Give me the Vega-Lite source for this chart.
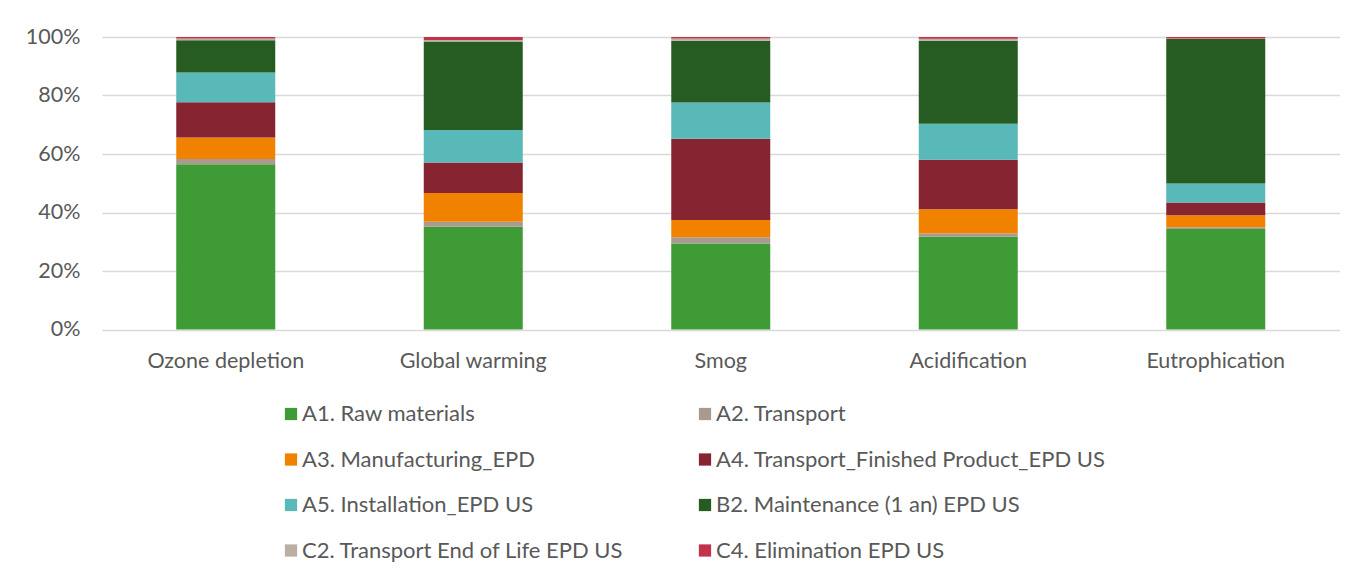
{
  "$schema": "https://vega.github.io/schema/vega-lite/v6.json",
  "width": 1237.5,
  "height": 292.5,
  "autosize": "none",
  "padding": {"left": 102, "top": 37, "right": 30, "bottom": 250},
  "background": "white",
  "config": {
    "view": {"stroke": null},
    "font": "Lato",
    "axis": {"labelColor": "#595959", "labelFont": "Lato", "labelFontSize": 21.5, "domain": false, "ticks": false, "gridColor": "#D9D9D9", "gridWidth": 1.3}
  },
  "data": {
    "values": [
      {"cat": "Ozone depletion", "stage": "A1. Raw materials", "v": 56.5},
      {"cat": "Ozone depletion", "stage": "A2. Transport", "v": 1.8},
      {"cat": "Ozone depletion", "stage": "A3. Manufacturing_EPD", "v": 7.3},
      {"cat": "Ozone depletion", "stage": "A4. Transport_Finished Product_EPD US", "v": 12.1},
      {"cat": "Ozone depletion", "stage": "A5. Installation_EPD US", "v": 10.2},
      {"cat": "Ozone depletion", "stage": "B2. Maintenance (1 an) EPD US", "v": 11.0},
      {"cat": "Ozone depletion", "stage": "C2. Transport End of Life EPD US", "v": 0.6},
      {"cat": "Ozone depletion", "stage": "C4. Elimination EPD US", "v": 0.5},
      {"cat": "Global warming", "stage": "A1. Raw materials", "v": 35.1},
      {"cat": "Global warming", "stage": "A2. Transport", "v": 1.7},
      {"cat": "Global warming", "stage": "A3. Manufacturing_EPD", "v": 9.9},
      {"cat": "Global warming", "stage": "A4. Transport_Finished Product_EPD US", "v": 10.4},
      {"cat": "Global warming", "stage": "A5. Installation_EPD US", "v": 11.1},
      {"cat": "Global warming", "stage": "B2. Maintenance (1 an) EPD US", "v": 30.3},
      {"cat": "Global warming", "stage": "C2. Transport End of Life EPD US", "v": 0.5},
      {"cat": "Global warming", "stage": "C4. Elimination EPD US", "v": 1.0},
      {"cat": "Smog", "stage": "A1. Raw materials", "v": 29.4},
      {"cat": "Smog", "stage": "A2. Transport", "v": 2.1},
      {"cat": "Smog", "stage": "A3. Manufacturing_EPD", "v": 5.9},
      {"cat": "Smog", "stage": "A4. Transport_Finished Product_EPD US", "v": 27.8},
      {"cat": "Smog", "stage": "A5. Installation_EPD US", "v": 12.4},
      {"cat": "Smog", "stage": "B2. Maintenance (1 an) EPD US", "v": 21.1},
      {"cat": "Smog", "stage": "C2. Transport End of Life EPD US", "v": 0.8},
      {"cat": "Smog", "stage": "C4. Elimination EPD US", "v": 0.5},
      {"cat": "Acidification", "stage": "A1. Raw materials", "v": 31.7},
      {"cat": "Acidification", "stage": "A2. Transport", "v": 1.1},
      {"cat": "Acidification", "stage": "A3. Manufacturing_EPD", "v": 8.3},
      {"cat": "Acidification", "stage": "A4. Transport_Finished Product_EPD US", "v": 16.9},
      {"cat": "Acidification", "stage": "A5. Installation_EPD US", "v": 12.3},
      {"cat": "Acidification", "stage": "B2. Maintenance (1 an) EPD US", "v": 28.4},
      {"cat": "Acidification", "stage": "C2. Transport End of Life EPD US", "v": 0.7},
      {"cat": "Acidification", "stage": "C4. Elimination EPD US", "v": 0.6},
      {"cat": "Eutrophication", "stage": "A1. Raw materials", "v": 34.4},
      {"cat": "Eutrophication", "stage": "A2. Transport", "v": 0.6},
      {"cat": "Eutrophication", "stage": "A3. Manufacturing_EPD", "v": 4.1},
      {"cat": "Eutrophication", "stage": "A4. Transport_Finished Product_EPD US", "v": 4.3},
      {"cat": "Eutrophication", "stage": "A5. Installation_EPD US", "v": 6.5},
      {"cat": "Eutrophication", "stage": "B2. Maintenance (1 an) EPD US", "v": 49.4},
      {"cat": "Eutrophication", "stage": "C2. Transport End of Life EPD US", "v": 0.2},
      {"cat": "Eutrophication", "stage": "C4. Elimination EPD US", "v": 0.5}
    ]
  },
  "mark": {"type": "bar"},
  "encoding": {
    "x": {
      "field": "cat", "type": "nominal", "sort": null, "title": null,
      "scale": {"paddingInner": 0.6, "paddingOuter": 0.3},
      "axis": {"labelAngle": 0, "labelPadding": 21, "grid": false}
    },
    "y": {
      "field": "v", "type": "quantitative", "stack": "normalize", "title": null,
      "scale": {"domain": [0, 1], "nice": false},
      "axis": {"values": [0, 0.2, 0.4, 0.6, 0.8, 1], "format": ".0%", "labelPadding": 22, "grid": true}
    },
    "order": {"field": "stage", "type": "nominal", "sort": "ascending"},
    "color": {
      "field": "stage", "type": "nominal",
      "scale": {
        "domain": ["A1. Raw materials", "A2. Transport", "A3. Manufacturing_EPD", "A4. Transport_Finished Product_EPD US", "A5. Installation_EPD US", "B2. Maintenance (1 an) EPD US", "C2. Transport End of Life EPD US", "C4. Elimination EPD US"],
        "range": ["#3E9B35", "#A89A8E", "#F08200", "#862432", "#58B9B8", "#265C22", "#BBAFA4", "#C3314A"]
      },
      "legend": {
        "title": null, "orient": "none", "legendX": 178, "legendY": 366, "direction": "horizontal",
        "columns": 2, "columnPadding": 70, "rowPadding": 23.5, "labelLimit": 500,
        "symbolType": "square", "symbolSize": 150, "symbolStrokeWidth": 0,
        "labelFont": "Lato", "labelFontSize": 22, "labelColor": "#595959", "labelOffset": 0
      }
    }
  }
}
